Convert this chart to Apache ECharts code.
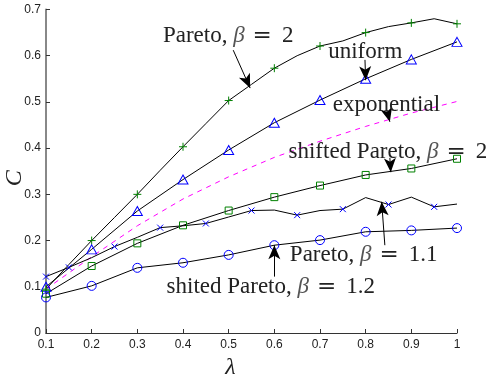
<!DOCTYPE html>
<html><head><meta charset="utf-8">
<script src="https://cdn.jsdelivr.net/npm/echarts@6/dist/echarts.min.js"></script>
<style>html,body{margin:0;padding:0;background:#fff}#c{width:492px;height:377px}</style>
</head><body><div id="c"></div>
<script>
// Data
var lambda10 = [0.1,0.2,0.3,0.4,0.5,0.6,0.7,0.8,0.9,1.0];
var lambda05 = [0.1,0.15,0.2,0.25,0.3,0.35,0.4,0.45,0.5,0.55,0.6,0.65,0.7,0.75,0.8,0.85,0.9,0.95,1.0];
var paretoB2 = [0.095,0.148,0.2,0.25,0.3,0.352,0.403,0.453,0.503,0.538,0.573,0.600,0.621,0.632,0.650,0.663,0.671,0.680,0.669];
var uniform = [0.100,0.181,0.264,0.332,0.396,0.455,0.504,0.550,0.592,0.630];
var exponential = [0.095,0.165,0.232,0.290,0.338,0.380,0.415,0.447,0.476,0.501];
var shiftedParetoB2 = [0.085,0.145,0.194,0.233,0.265,0.294,0.319,0.342,0.356,0.377];
var paretoB11 = [0.122,0.142,0.163,0.187,0.207,0.228,0.232,0.237,0.251,0.265,0.266,0.255,0.265,0.268,0.293,0.278,0.294,0.273,0.279];
var shitedParetoB12 = [0.077,0.102,0.141,0.152,0.169,0.190,0.201,0.219,0.222,0.227];
var xTicks = ['0.1','0.2','0.3','0.4','0.5','0.6','0.7','0.8','0.9','1'];
var yTicks = ['0','0.1','0.2','0.3','0.4','0.5','0.6','0.7'];

// Annotations: label anchor (lambda,C) and arrows (start, tip)
var annLabels = [
  {name:'Pareto, ', beta:'2', at:[0.356,0.643]},
  {name:'uniform', beta:null, at:[0.718,0.608]},
  {name:'exponential', beta:null, at:[0.728,0.493]},
  {name:'shifted Pareto, ', beta:'2', at:[0.631,0.392]},
  {name:'Pareto, ', beta:'1.1', at:[0.634,0.169]},
  {name:'shited Pareto, ', beta:'1.2', at:[0.364,0.0995]}
];
var annArrows = [
  [[0.510,0.612],[0.547,0.530]],
  [[0.7985,0.591],[0.800,0.547]],
  [[0.846,0.483],[0.853,0.457]],
  [[0.853,0.379],[0.855,0.348]],
  [[0.842,0.190],[0.835,0.284]],
  [[0.600,0.122],[0.600,0.190]]
];

var GREEN = '#008000', BLUE = '#0000ff';
function pts(xs, ys, markerFn){
  return ys.map(function(v,i){
    var o = {value:[xs[i], v]};
    if (markerFn && !markerFn(i)) o.symbol = 'none';
    return o;
  });
}
function lineSeries(name, data, symbol, size, color){
  return {
    name:name, type:'line', data:data, symbol:symbol, symbolSize:size,
    showAllSymbol:true, silent:true, z:3,
    lineStyle:{color:'#000', width:1},
    itemStyle:{color:'none', borderColor:color, borderWidth:1}
  };
}
var PLUS = 'path://M0,5L10,5M5,0L5,10';
var CROSS = 'path://M0,0L10,10M10,0L0,10';

var series = [
  lineSeries('Pareto b2', pts(lambda05, paretoB2, function(i){return i%2===0;}), PLUS, 8, GREEN),
  lineSeries('uniform', pts(lambda10, uniform), 'triangle', [10,9], BLUE),
  {name:'exponential', type:'line', data:pts(lambda10, exponential), symbol:'none', silent:true,
   lineStyle:{color:'#ff00ff', width:1, type:[5,5]}},
  lineSeries('shifted Pareto b2', pts(lambda10, shiftedParetoB2), 'rect', 7, GREEN),
  lineSeries('Pareto b1.1', pts(lambda05, paretoB11, function(i){return i===0 || i%2===1;}), CROSS, 6, BLUE),
  lineSeries('shited Pareto b1.2', pts(lambda10, shitedParetoB12), 'circle', 9, BLUE),
  {name:'annotations', type:'line', data:[], silent:true, z:5,
   itemStyle:{color:'#000'},
   markLine:{silent:true, animation:false, symbol:['none','arrow'], symbolSize:13,
     itemStyle:{color:'#000'},
     lineStyle:{color:'#000', width:1, type:'solid'}, label:{show:false},
     data: annArrows.map(function(a){
       return [{coord:a[0], symbol:'none'},{coord:a[1], symbol:'arrow', symbolSize:[9,14]}];
     })},
   markPoint:{silent:true, animation:false, symbol:'circle', symbolSize:0,
     itemStyle:{color:'none'},
     label:{show:true, position:'right', distance:0,
       fontFamily:'Liberation Serif', fontSize:23, color:'#222',
       rich:{
         t:{fontFamily:'Liberation Serif', fontSize:23, color:'#222'},
         b:{fontFamily:'Liberation Serif', fontStyle:'italic', fontSize:23, color:'#555'},
         q:{fontFamily:'DejaVu Serif', fontSize:23, color:'#222', padding:[0,0,0,8]},
         n:{fontFamily:'Liberation Serif', fontSize:23, color:'#222', padding:[0,0,0,10]}
       }},
     data: annLabels.map(function(a){
       var txt = '{t|' + a.name + '}' + (a.beta ? '{b|β}{q|=}{n|' + a.beta + '}' : '');
       return {coord:a.at, label:{formatter:txt}};
     })}
  }
];

var chart = echarts.init(document.getElementById('c'), null, {renderer:'canvas'});
chart.setOption({
  animation:false,
  backgroundColor:'#fff',
  grid:{left:46, right:35, top:9.5, bottom:44, containLabel:false, outerBoundsMode:'none'},
  xAxis:{type:'value', min:0.1, max:1, interval:0.1,
    name:'λ', nameLocation:'middle', nameGap:21,
    nameTextStyle:{fontFamily:'Liberation Serif', fontStyle:'italic', fontSize:24, color:'#222', padding:[0,42,0,0]},
    axisLine:{show:true, onZero:false, lineStyle:{color:'#333', width:1}},
    axisTick:{show:true, inside:true, length:4, lineStyle:{color:'#333'}},
    splitLine:{show:false},
    axisLabel:{fontFamily:'Liberation Sans', fontSize:12, color:'#222', margin:6,
      formatter:function(v){ var i = Math.round((v-0.1)*10); return xTicks[i]; }}
  },
  yAxis:{type:'value', min:0, max:0.7, interval:0.1,
    name:'C', nameLocation:'middle', nameGap:19, nameMoveOverlap:false,
    nameTextStyle:{fontFamily:'Liberation Serif', fontStyle:'italic', fontSize:24, color:'#222', padding:[0,14,0,0]},
    axisLine:{show:true, onZero:false, lineStyle:{color:'#888', width:2}},
    axisTick:{show:true, inside:true, length:4, lineStyle:{color:'#333'}},
    splitLine:{show:false},
    axisLabel:{fontFamily:'Liberation Sans', fontSize:12, color:'#222', margin:5,
      formatter:function(v){ var i = Math.round(v*10); return yTicks[i]; }}
  },
  series:series
});
</script></body></html>
